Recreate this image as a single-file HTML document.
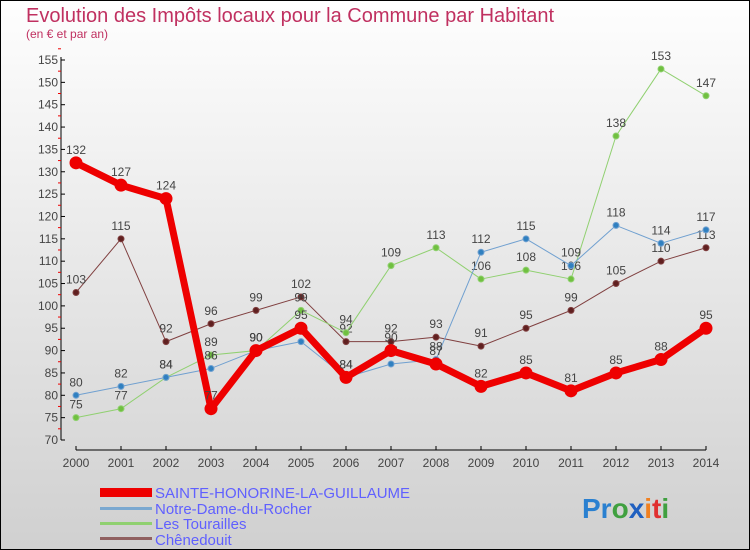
<!DOCTYPE html>
<html><head><meta charset="utf-8"><style>
body{margin:0;width:750px;height:550px;overflow:hidden;font-family:"Liberation Sans",sans-serif}
#wrap{position:absolute;left:0;top:0;width:748px;height:548px;border:1px solid #000;background:linear-gradient(#fefefe,#d0d0d0)}
svg{position:absolute;left:0;top:0}
</style></head><body>
<div id="wrap"></div>
<svg id="c" width="750" height="550">
<text x="26" y="22" font-size="20" fill="#c03060">Evolution des Impôts locaux pour la Commune par Habitant</text>
<text x="26" y="38" font-size="12" fill="#c03060">(en € et par an)</text>
<g id="axes"></g><g id="series"></g>
<g>
<rect x="100" y="488" width="52" height="9" fill="#e00"/>
<text x="155" y="498" font-size="15" fill="#6060ff">SAINTE-HONORINE-LA-GUILLAUME</text>
<rect x="100" y="507" width="52" height="3" fill="#7aa8d0"/>
<text x="155" y="514" font-size="15" fill="#6060ff">Notre-Dame-du-Rocher</text>
<rect x="100" y="522" width="52" height="3" fill="#90d070"/>
<text x="155" y="529" font-size="15" fill="#6060ff">Les Tourailles</text>
<rect x="100" y="537" width="52" height="3" fill="#906060"/>
<text x="155" y="545" font-size="15" fill="#6060ff">Chênedouit</text>
</g>
<text x="582" y="518" font-size="28" font-weight="bold"><tspan fill="#2a80d0">Pr</tspan><tspan fill="#40a040">o</tspan><tspan fill="#2060c0">x</tspan><tspan fill="#f08020">i</tspan><tspan fill="#e03030">t</tspan><tspan fill="#40a040">i</tspan></text>
</svg>
<script>
const years=[2000,2001,2002,2003,2004,2005,2006,2007,2008,2009,2010,2011,2012,2013,2014];
const yTicks=[70,75,80,85,90,95,100,105,110,115,120,125,130,135,140,145,150,155];
const sainte=[132,127,124,77,90,95,84,90,87,82,85,81,85,88,95];
const notreDame=[80,82,84,86,90,92,84,87,88,112,115,109,118,114,117];
const tourailles=[75,77,84,89,90,99,94,109,113,106,108,106,138,153,147];
const chenedouit=[103,115,92,96,99,102,92,92,93,91,95,99,105,110,113];
const NS="http://www.w3.org/2000/svg";
const xs=i=>76+i*45, ys=v=>440-(v-70)*380/85;
function mk(t,a,p){const e=document.createElementNS(NS,t);for(const k in a)e.setAttribute(k,a[k]);p.appendChild(e);return e;}
const ax=document.getElementById('axes'), sg=document.getElementById('series');
let l=mk('line',{x1:61,y1:57,x2:61,y2:440,stroke:'#000'},ax);


l=mk('line',{x1:76,y1:450,x2:706,y2:450,stroke:'#000'},ax);


yTicks.forEach(v=>{const y=ys(v);
mk('line',{x1:61,y1:y,x2:65,y2:y,stroke:'#000'},ax);
mk('line',{x1:58,y1:y-11.2,x2:61,y2:y-11.2,stroke:'#e00'},ax);
const t=mk('text',{x:58,y:y+4,'font-size':12,fill:'#444','text-anchor':'end'},ax);t.textContent=v;

});
years.forEach((yr,i)=>{const x=xs(i);
mk('line',{x1:x,y1:446,x2:x,y2:450,stroke:'#000'},ax);
const t=mk('text',{x:x,y:467,'font-size':12,fill:'#444','text-anchor':'middle'},ax);t.textContent=yr;

});
function series(d,col,dot,w,r,name){const g=mk('g',{},sg);


mk('polyline',{points:d.map((v,i)=>xs(i)+','+ys(v)).join(' '),fill:'none',stroke:col,'stroke-width':w,'stroke-linejoin':'round'},g);
d.forEach((v,i)=>{const c=mk('circle',{cx:xs(i),cy:ys(v),r:r,fill:dot,stroke:col,'stroke-width':1},g);


const t=mk('text',{x:xs(i),y:ys(v)-9,'font-size':12,fill:'#444','text-anchor':'middle'},g);t.textContent=v;});}
series(chenedouit,'#804040','#602020',1,3,'series-chenedouit');
series(tourailles,'#90d070','#70c040',1,3,'series-tourailles');
series(notreDame,'#70a0d0','#3080c0',1,3,'series-notre-dame');
series(sainte,'#ee0000','#ee0000',7,6,'series-sainte');
</script>
</body></html>
